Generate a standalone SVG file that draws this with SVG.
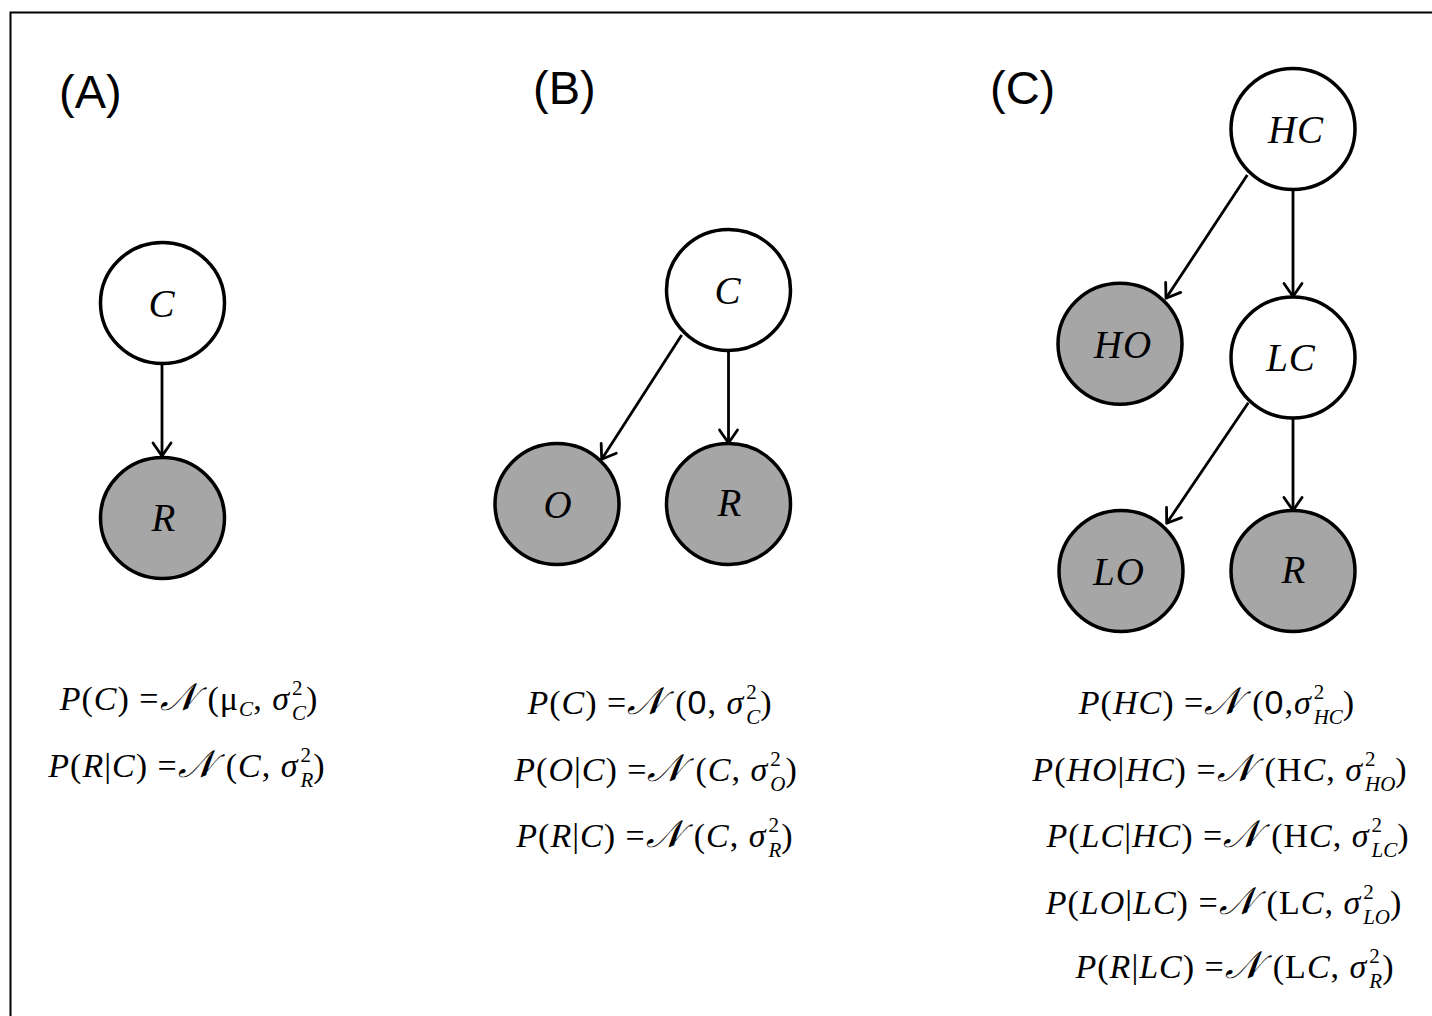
<svg xmlns="http://www.w3.org/2000/svg" width="1432" height="1016" viewBox="0 0 1432 1016">
<defs>
<style>
.bg{fill:#ffffff}
.frame{fill:none;stroke:#000;stroke-width:2}
.node{stroke:#000;stroke-width:3.5}
.latent{fill:#ffffff}
.obs{fill:#a6a6a6}
.lbl{font-family:"Liberation Serif",serif;font-style:italic;font-size:39px;fill:#000;text-anchor:middle;letter-spacing:1px}
.panel{font-family:"Liberation Sans",sans-serif;font-size:47px;fill:#000}
.edge{stroke:#000;stroke-width:2.8;fill:none;marker-end:url(#arr)}
.f{font-family:"Liberation Serif",serif;font-size:34px;fill:#000;text-anchor:middle;letter-spacing:1px}
.i{font-style:italic}
.s{font-size:21px;letter-spacing:0}
.n{font-family:"DejaVu Serif","DejaVu Sans","Noto Sans",serif;font-style:italic;font-size:38px}
.z{font-family:"Liberation Sans",sans-serif}
</style>
<marker id="arr" markerUnits="userSpaceOnUse" viewBox="-16 -12 20 24" refX="0" refY="0" markerWidth="20" markerHeight="24" orient="auto">
<path d="M-13,-9 L0,0 L-13,9" fill="none" stroke="#000" stroke-width="2.8" stroke-linecap="round" stroke-linejoin="round"/>
</marker>
</defs>
<rect class="bg" x="0" y="0" width="1432" height="1016"/>
<path class="frame" d="M10.5,1016 L10.5,12.5 L1432,12.5"/>

<text class="panel" x="59" y="108">(A)</text>
<text class="panel" x="533" y="104">(B)</text>
<text class="panel" x="990" y="104">(C)</text>

<g id="connectors">
<line class="edge" x1="162" y1="364" x2="162" y2="456"/>
<line class="edge" x1="728.5" y1="351" x2="728.5" y2="443"/>
<line class="edge" x1="681.7" y1="335" x2="601.7" y2="459.3"/>
<line class="edge" x1="1247.3" y1="175" x2="1166" y2="298.3"/>
<line class="edge" x1="1293" y1="189" x2="1293" y2="296.5"/>
<line class="edge" x1="1248.3" y1="402.7" x2="1166.7" y2="523.3"/>
<line class="edge" x1="1293" y1="418.5" x2="1293" y2="510.5"/>
</g>

<g id="A_C"><ellipse class="node latent" cx="162.5" cy="303" rx="62" ry="60.5"/><text class="lbl" x="162" y="317">C</text></g>
<g id="A_R"><ellipse class="node obs" cx="162.5" cy="518" rx="62" ry="60.5"/><text class="lbl" x="164" y="531">R</text></g>

<g id="B_C"><ellipse class="node latent" cx="728.5" cy="290" rx="62" ry="60.5"/><text class="lbl" x="728" y="304">C</text></g>
<g id="B_O"><ellipse class="node obs" cx="557" cy="504" rx="62" ry="60.5"/><text class="lbl" x="558" y="518">O</text></g>
<g id="B_R"><ellipse class="node obs" cx="728.5" cy="504" rx="62" ry="60.5"/><text class="lbl" x="730" y="516">R</text></g>

<g id="C_HC"><ellipse class="node latent" cx="1293" cy="129" rx="62" ry="60.5"/><text class="lbl" x="1296" y="143">HC</text></g>
<g id="C_HO"><ellipse class="node obs" cx="1120" cy="343.7" rx="62" ry="60.5"/><text class="lbl" x="1123" y="358">HO</text></g>
<g id="C_LC"><ellipse class="node latent" cx="1293" cy="357.5" rx="62" ry="60.5"/><text class="lbl" x="1291" y="371">LC</text></g>
<g id="C_LO"><ellipse class="node obs" cx="1121" cy="571" rx="62" ry="60.5"/><text class="lbl" x="1119" y="585">LO</text></g>
<g id="C_R"><ellipse class="node obs" cx="1293" cy="571" rx="62" ry="60.5"/><text class="lbl" x="1294" y="583">R</text></g>

<g id="formulas">
<text class="f" x="189" y="710"><tspan class="i">P</tspan>(<tspan class="i">C</tspan>) =<tspan class="n">𝒩</tspan><tspan dx="11">(μ</tspan><tspan class="s i" dy="6">C</tspan><tspan dy="-6">, </tspan><tspan class="i">σ</tspan><tspan class="s" dx="2" dy="-15">2</tspan><tspan class="s i" dx="-10.5" dy="25">C</tspan><tspan dy="-10">)</tspan></text>
<text class="f" x="187" y="777"><tspan class="i">P</tspan>(<tspan class="i">R</tspan>|<tspan class="i">C</tspan>) =<tspan class="n">𝒩</tspan><tspan dx="11">(</tspan><tspan class="i">C</tspan>, <tspan class="i">σ</tspan><tspan class="s" dx="2" dy="-15">2</tspan><tspan class="s i" dx="-10.5" dy="25">R</tspan><tspan dy="-10">)</tspan></text>

<text class="f" x="650" y="714"><tspan class="i">P</tspan>(<tspan class="i">C</tspan>) =<tspan class="n">𝒩</tspan><tspan dx="11">(</tspan><tspan class="z">0</tspan>, <tspan class="i">σ</tspan><tspan class="s" dx="2" dy="-15">2</tspan><tspan class="s i" dx="-10.5" dy="25">C</tspan><tspan dy="-10">)</tspan></text>
<text class="f" x="656" y="781"><tspan class="i">P</tspan>(<tspan class="i">O</tspan>|<tspan class="i">C</tspan>) =<tspan class="n">𝒩</tspan><tspan dx="11">(</tspan><tspan class="i">C</tspan>, <tspan class="i">σ</tspan><tspan class="s" dx="2" dy="-15">2</tspan><tspan class="s i" dx="-10.5" dy="25">O</tspan><tspan dy="-10">)</tspan></text>
<text class="f" x="655" y="847"><tspan class="i">P</tspan>(<tspan class="i">R</tspan>|<tspan class="i">C</tspan>) =<tspan class="n">𝒩</tspan><tspan dx="11">(</tspan><tspan class="i">C</tspan>, <tspan class="i">σ</tspan><tspan class="s" dx="2" dy="-15">2</tspan><tspan class="s i" dx="-10.5" dy="25">R</tspan><tspan dy="-10">)</tspan></text>

<text class="f" x="1217" y="714"><tspan class="i">P</tspan>(<tspan class="i">HC</tspan>) =<tspan class="n">𝒩</tspan><tspan dx="11">(</tspan><tspan class="z">0</tspan>,<tspan class="i">σ</tspan><tspan class="s" dx="2" dy="-15">2</tspan><tspan class="s i" dx="-10.5" dy="25">HC</tspan><tspan dy="-10">)</tspan></text>
<text class="f" x="1220" y="781"><tspan class="i">P</tspan>(<tspan class="i">HO</tspan>|<tspan class="i">HC</tspan>) =<tspan class="n">𝒩</tspan><tspan dx="11">(H</tspan><tspan class="i">C</tspan>, <tspan class="i">σ</tspan><tspan class="s" dx="2" dy="-15">2</tspan><tspan class="s i" dx="-10.5" dy="25">HO</tspan><tspan dy="-10">)</tspan></text>
<text class="f" x="1228" y="847"><tspan class="i">P</tspan>(<tspan class="i">LC</tspan>|<tspan class="i">HC</tspan>) =<tspan class="n">𝒩</tspan><tspan dx="11">(H</tspan><tspan class="i">C</tspan>, <tspan class="i">σ</tspan><tspan class="s" dx="2" dy="-15">2</tspan><tspan class="s i" dx="-10.5" dy="25">LC</tspan><tspan dy="-10">)</tspan></text>
<text class="f" x="1224" y="914"><tspan class="i">P</tspan>(<tspan class="i">LO</tspan>|<tspan class="i">LC</tspan>) =<tspan class="n">𝒩</tspan><tspan dx="11">(L</tspan><tspan class="i">C</tspan>, <tspan class="i">σ</tspan><tspan class="s" dx="2" dy="-15">2</tspan><tspan class="s i" dx="-10.5" dy="25">LO</tspan><tspan dy="-10">)</tspan></text>
<text class="f" x="1235" y="978"><tspan class="i">P</tspan>(<tspan class="i">R</tspan>|<tspan class="i">LC</tspan>) =<tspan class="n">𝒩</tspan><tspan dx="11">(L</tspan><tspan class="i">C</tspan>, <tspan class="i">σ</tspan><tspan class="s" dx="2" dy="-15">2</tspan><tspan class="s i" dx="-10.5" dy="25">R</tspan><tspan dy="-10">)</tspan></text>
</g>
</svg>
